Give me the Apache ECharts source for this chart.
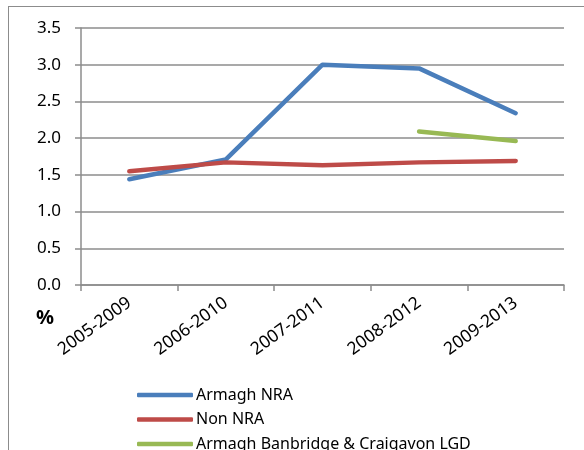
<!DOCTYPE html>
<html><head><meta charset="utf-8">
<script src="https://cdn.jsdelivr.net/npm/echarts@6/dist/echarts.min.js"></script>
<style>html,body{margin:0;padding:0;background:#fff}#c{width:584px;height:450px}</style>
</head><body><div id="c"></div>
<script>
const categories = ['2005-2009','2006-2010','2007-2011','2008-2012','2009-2013'];
const armaghNRA = [1.44, 1.71, 3.00, 2.95, 2.34];
const nonNRA = [1.55, 1.67, 1.63, 1.67, 1.69];
const armaghLGD = [null, null, null, 2.09, 1.96];
const seriesNames = ['Armagh NRA','Non NRA','Armagh Banbridge & Craigavon LGD'];
const colors = ['#4a7ebb','#be4b48','#98b954'];
const font = 'Noto Sans';
const chart = echarts.init(document.getElementById('c'));
function line(name, data, color){
  return {name, type:'line', data, symbol:'none', smooth:false, connectNulls:false,
    lineStyle:{color, width:4.5, cap:'round', join:'round'}, itemStyle:{color}};
}
const legendTops = [387, 411.5, 436];
chart.setOption({
  animation:false,
  textStyle:{fontFamily:font},
  grid:{left:81, right:20, top:28, bottom:165, containLabel:false},
  graphic:[
    {type:'line', shape:{x1:8.5,y1:6,x2:8.5,y2:450}, style:{stroke:'#8c8c8c', lineWidth:1}},
    {type:'line', shape:{x1:8,y1:6.5,x2:584,y2:6.5}, style:{stroke:'#8c8c8c', lineWidth:1}},
    {type:'text', left:36, top:308, style:{text:'%', font:'bold 20px "Noto Sans"', fill:'#000'}}
  ],
  xAxis:{type:'category', data:categories, boundaryGap:true,
    axisLine:{lineStyle:{color:'#8c8c8c', width:1.5}},
    axisTick:{show:true, length:6, lineStyle:{color:'#8c8c8c', width:1.5}},
    axisLabel:{rotate:36, fontSize:17.5, color:'#000', margin:16, fontFamily:font}},
  yAxis:{type:'value', min:0, max:3.5, interval:0.5,
    axisLine:{show:true, lineStyle:{color:'#8c8c8c', width:1.5}},
    axisTick:{show:true, inside:false, length:6, lineStyle:{color:'#8c8c8c', width:1.5}},
    splitLine:{lineStyle:{color:'#8c8c8c', width:1.5}},
    axisLabel:{formatter:v=>v.toFixed(1), fontSize:17, color:'#000', margin:20, fontFamily:font}},
  legend: seriesNames.map((n,i)=>({orient:'vertical', left:137, top:legendTops[i], padding:0, itemWidth:56, itemHeight:4.5,
    icon:'roundRect', data:[n], selectedMode:false,
    textStyle:{fontSize:16, color:'#000', fontFamily:font, padding:[0,0,0,-2]}})),
  series:[line(seriesNames[0], armaghNRA, colors[0]), line(seriesNames[1], nonNRA, colors[1]), line(seriesNames[2], armaghLGD, colors[2])]
});
</script></body></html>
